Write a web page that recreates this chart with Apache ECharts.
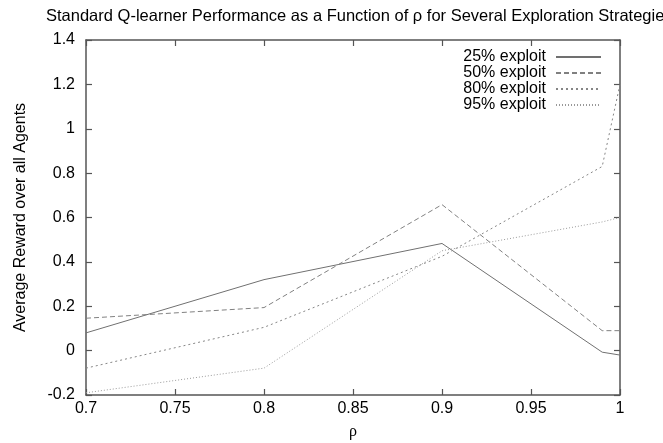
<!DOCTYPE html>
<html>
<head>
<meta charset="utf-8">
<script src="https://cdn.jsdelivr.net/npm/echarts@6/dist/echarts.min.js"></script>
<style>html,body{margin:0;padding:0;background:#fff}#c{width:663px;height:443px}</style>
</head>
<body>
<div id="c"></div>
<script>
const rho = [0.7, 0.8, 0.9, 0.99, 1.0];
const seriesNames = ['25% exploit', '50% exploit', '80% exploit', '95% exploit'];
const exploit25 = [0.08, 0.32, 0.483, -0.007, -0.02];
const exploit50 = [0.146, 0.194, 0.658, 0.09, 0.09];
const exploit80 = [-0.079, 0.105, 0.425, 0.83, 1.2];
const exploit95 = [-0.19, -0.079, 0.45, 0.58, 0.6];
const xTicks = [0.7, 0.75, 0.8, 0.85, 0.9, 0.95, 1];
const yTicks = [-0.2, 0, 0.2, 0.4, 0.6, 0.8, 1, 1.2, 1.4];

const values = [exploit25, exploit50, exploit80, exploit95];
const colors = ['#707070', '#808080', '#858585', '#999999'];
const dashes = ['solid', [5, 3], [2, 3], [1, 2]];
const font = 'Liberation Sans, Arial, Helvetica, sans-serif';

const chart = echarts.init(document.getElementById('c'), null, {renderer: 'canvas'});
const axisLine = {show: true, onZero: false, lineStyle: {color: '#555', width: 1.5}};
const tick = {show: true, inside: true, length: 6, lineStyle: {color: '#555', width: 1.2}};
chart.setOption({
  animation: false,
  title: {
    text: 'Standard Q-learner Performance as a Function of \u03c1 for Several Exploration Strategies',
    left: 41, top: 3,
    textStyle: {fontFamily: font, fontSize: 16.5, fontWeight: 'normal', color: '#000'}
  },
  legend: {
    data: seriesNames,
    orient: 'vertical',
    right: 56, top: 44,
    align: 'right',
    itemWidth: 45, itemHeight: 10, itemGap: 0,
    itemStyle: {opacity: 0},
    textStyle: {fontFamily: font, fontSize: 16, lineHeight: 14, color: '#000', padding: [0, 5, 0, 0]}
  },
  grid: {left: 86, right: 43, top: 40, bottom: 48, outerBoundsMode: 'none', containLabel: false},
  xAxis: [{
    type: 'value', min: 0.7, max: 1, interval: 0.05,
    name: '\u03c1', nameLocation: 'middle', nameGap: 29,
    nameTextStyle: {fontFamily: 'Liberation Serif, serif', fontSize: 16, color: '#000'},
    axisLine: axisLine, axisTick: tick, splitLine: {show: false},
    axisLabel: {fontFamily: font, fontSize: 16, color: '#000', margin: 6,
      formatter: v => { const t = xTicks.find(x => Math.abs(x - v) < 1e-6); return t === undefined ? '' : String(t); }}
  }, {
    type: 'value', min: 0.7, max: 1, interval: 0.05, position: 'top',
    axisLine: axisLine, axisTick: tick, axisLabel: {show: false}, splitLine: {show: false}
  }],
  yAxis: [{
    type: 'value', min: -0.2, max: 1.4, interval: 0.2,
    name: 'Average Reward over all Agents', nameLocation: 'middle', nameGap: 57,
    nameTextStyle: {fontFamily: font, fontSize: 16, color: '#000'},
    axisLine: axisLine, axisTick: tick, splitLine: {show: false},
    axisLabel: {fontFamily: font, fontSize: 16, color: '#000', margin: 11,
      formatter: v => { const t = yTicks.find(y => Math.abs(y - v) < 1e-6); return t === undefined ? '' : String(t); }}
  }, {
    type: 'value', min: -0.2, max: 1.4, interval: 0.2, position: 'right',
    axisLine: axisLine, axisTick: tick, axisLabel: {show: false}, splitLine: {show: false}
  }],
  series: seriesNames.map((name, i) => ({
    name: name, type: 'line', xAxisIndex: 0, yAxisIndex: 0,
    data: rho.map((r, j) => [r, values[i][j]]),
    symbol: 'none', showSymbol: false,
    lineStyle: {color: colors[i], width: 1, type: dashes[i]},
    itemStyle: {color: colors[i]}
  }))
});
</script>
</body>
</html>
